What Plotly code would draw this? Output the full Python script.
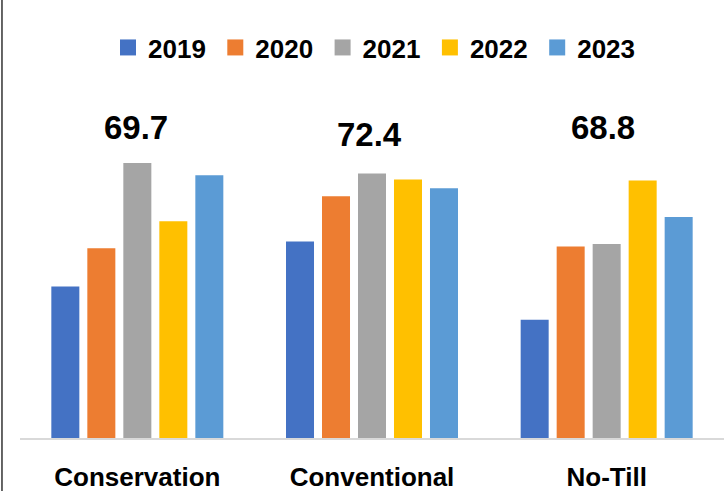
import plotly.graph_objects as go

categories = ["Conservation", "Conventional", "No-Till"]
years = ["2019", "2020", "2021", "2022", "2023"]
colors = ["#4472C4", "#ED7D31", "#A5A5A5", "#FFC000", "#5B9BD5"]

v2019 = [57.4, 62.6, 53.6]
v2020 = [61.8, 67.8, 62.0]
v2021 = [71.6, 70.4, 62.3]
v2022 = [64.9, 69.7, 69.6]
v2023 = [70.2, 68.7, 65.4]
series = [v2019, v2020, v2021, v2022, v2023]

group_labels = ["69.7", "72.4", "68.8"]

FONT = "Liberation Sans Narrow, Arial Narrow, Liberation Sans, Arial, sans-serif"

fig = go.Figure()
for yr, vals, col in zip(years, series, colors):
    fig.add_trace(go.Bar(x=categories, y=vals, name=yr, marker_color=col,
                         marker_line_width=0, showlegend=False))
# legend proxies (larger square swatches)
for yr, col in zip(years, colors):
    fig.add_trace(go.Scatter(x=[None], y=[None], mode="markers", name=yr,
                             marker=dict(symbol="square", size=16, color=col)))

label_pos = [(0.892, -1.5), (0.872, -3), (0.893, -3.5)]
for cat, lab, (yp, xs) in zip(categories, group_labels, label_pos):
    fig.add_annotation(x=cat, y=yp, xref="x", yref="paper", text="<b>" + lab + "</b>",
                       showarrow=False, xshift=xs, yanchor="middle",
                       font=dict(family=FONT, size=33, color="#000000"))

# left border line of the cropped frame
fig.add_shape(type="line", xref="paper", yref="paper",
              x0=-0.0256, x1=-0.0256, y0=-0.2, y1=1.3,
              line=dict(color="#333333", width=1.5))

fig.update_layout(
    width=727, height=491,
    margin=dict(l=20, r=3, t=90, b=53, autoexpand=False),
    paper_bgcolor="white", plot_bgcolor="white",
    barmode="group", bargap=0.233, bargroupgap=0.222,
    font=dict(family=FONT, color="#000000"),
    showlegend=True,
    legend=dict(orientation="h", x=0.125, xanchor="left", y=1.122, yanchor="middle",
                font=dict(family=FONT, size=26, color="#000000", weight="bold"),
                entrywidth=62.3, entrywidthmode="pixels",
                bgcolor="rgba(0,0,0,0)"),
    xaxis=dict(showline=True, linecolor="#D9D9D9", linewidth=1.5, automargin=False,
               tickfont=dict(family=FONT, size=26, color="#000000", weight="bold"),
               ticks="", ticklabelstandoff=15, showgrid=False, zeroline=False),
    yaxis=dict(range=[40, 80], visible=False, showgrid=False, zeroline=False,
               automargin=False),
)

fig.write_html("out.html", config={"displayModeBar": False},
               post_script="document.body.style.margin='0px';document.body.style.overflow='hidden';")
